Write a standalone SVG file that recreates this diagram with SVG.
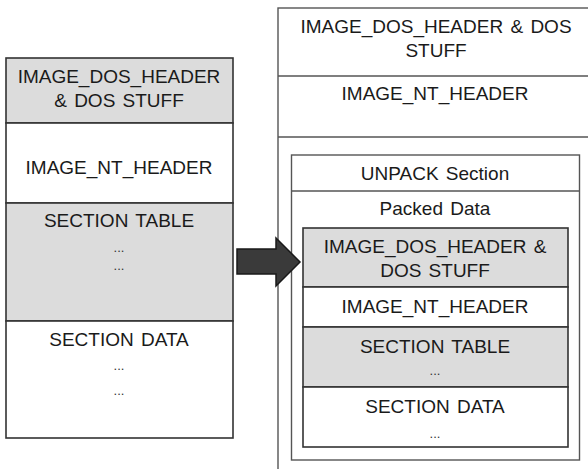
<svg xmlns="http://www.w3.org/2000/svg" width="588" height="469" viewBox="0 0 588 469">
<style>
.box{fill:#ffffff;stroke:#333;stroke-width:1.6}
.gray{fill:#dcdcdc;stroke:#333;stroke-width:1.6}
.outer{fill:#ffffff;stroke:#555;stroke-width:1.4}
.t{font-family:"Liberation Sans",Arial,sans-serif;font-size:19px;fill:#1a1a1a;text-anchor:middle}
.w{word-spacing:2px}
.d{font-family:"Liberation Sans",Arial,sans-serif;font-size:13px;fill:#333;text-anchor:middle}
</style>
<rect width="588" height="469" fill="#ffffff"/>
<g id="left-file">
  <g id="l-dos">
    <rect class="gray" x="6" y="58" width="227" height="65"/>
    <text class="t w" x="119" y="83">IMAGE_DOS_HEADER<tspan x="119" dy="24">&amp; DOS STUFF</tspan></text>
  </g>
  <g id="l-nt">
    <rect class="box" x="6" y="123" width="227" height="80"/>
    <text class="t" x="119" y="174">IMAGE_NT_HEADER</text>
  </g>
  <g id="l-sectable">
    <rect class="gray" x="6" y="203" width="227" height="118"/>
    <text class="t w" x="119" y="227">SECTION TABLE</text>
    <text class="d" x="119" y="252">...<tspan x="119" dy="18">...</tspan></text>
  </g>
  <g id="l-secdata">
    <rect class="box" x="6" y="321" width="227" height="117"/>
    <text class="t w" x="119" y="346">SECTION DATA</text>
    <text class="d" x="119" y="370">...<tspan x="119" dy="25">...</tspan></text>
  </g>
</g>
<g id="right-file">
  <rect class="outer" x="278" y="8" width="320" height="470"/>
  <g id="r-dos">
    <line x1="278" y1="76" x2="588" y2="76" stroke="#555" stroke-width="1.4"/>
    <text class="t w" x="436" y="33">IMAGE_DOS_HEADER &amp; DOS<tspan x="436" dy="24">STUFF</tspan></text>
  </g>
  <g id="r-nt">
    <line x1="278" y1="137" x2="588" y2="137" stroke="#555" stroke-width="1.4"/>
    <text class="t" x="435" y="100">IMAGE_NT_HEADER</text>
  </g>
  <g id="unpack">
    <rect class="outer" x="291.5" y="155" width="288" height="305"/>
    <line x1="291.5" y1="191" x2="579.5" y2="191" stroke="#555" stroke-width="1.4"/>
    <text class="t w" x="435" y="180">UNPACK Section</text>
    <text class="t w" x="435" y="215">Packed Data</text>
  </g>
  <g id="i-dos">
    <rect class="gray" x="303" y="228" width="265" height="59"/>
    <text class="t w" x="435" y="253">IMAGE_DOS_HEADER &amp;<tspan x="435" dy="24">DOS STUFF</tspan></text>
  </g>
  <g id="i-nt">
    <rect class="box" x="303" y="287" width="265" height="40"/>
    <text class="t" x="435" y="313">IMAGE_NT_HEADER</text>
  </g>
  <g id="i-sectable">
    <rect class="gray" x="303" y="327" width="265" height="60"/>
    <text class="t w" x="435" y="353">SECTION TABLE</text>
    <text class="d" x="435" y="375">...</text>
  </g>
  <g id="i-secdata">
    <rect class="box" x="303" y="387" width="265" height="60"/>
    <text class="t w" x="435" y="413">SECTION DATA</text>
    <text class="d" x="435" y="438">...</text>
  </g>
</g>
<g id="connectors">
  <polygon points="237,249 276,249 276,238 300,262 276,286 276,274 237,274" fill="#3a3a3a" stroke="#1a1a1a" stroke-width="1.5" stroke-linejoin="miter"/>
</g>
</svg>
